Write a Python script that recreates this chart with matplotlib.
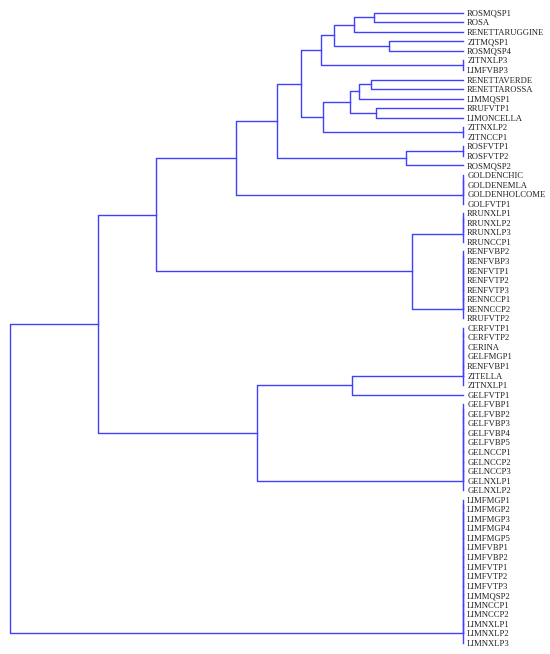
import matplotlib
matplotlib.use("Agg")
import matplotlib.pyplot as plt

# leaf labels, top to bottom
labels = [
    "ROSMQSP1", "ROSA", "RENETTARUGGINE", "ZITMQSP1", "ROSMQSP4",
    "ZITNXLP3", "LIMFVBP3", "RENETTAVERDE", "RENETTAROSSA", "LIMMQSP1",
    "RRUFVTP1", "LIMONCELLA", "ZITNXLP2", "ZITNCCP1", "ROSFVTP1",
    "ROSFVTP2", "ROSMQSP2", "GOLDENCHIC", "GOLDENEMLA", "GOLDENHOLCOME",
    "GOLFVTP1", "RRUNXLP1", "RRUNXLP2", "RRUNXLP3", "RRUNCCP1",
    "RENFVBP2", "RENFVBP3", "RENFVTP1", "RENFVTP2", "RENFVTP3",
    "RENNCCP1", "RENNCCP2", "RRUFVTP2", "CERFVTP1", "CERFVTP2",
    "CERINA", "GELFMGP1", "RENFVBP1", "ZITELLA", "ZITNXLP1",
    "GELFVTP1", "GELFVBP1", "GELFVBP2", "GELFVBP3", "GELFVBP4",
    "GELFVBP5", "GELNCCP1", "GELNCCP2", "GELNCCP3", "GELNXLP1",
    "GELNXLP2", "LIMFMGP1", "LIMFMGP2", "LIMFMGP3", "LIMFMGP4",
    "LIMFMGP5", "LIMFVBP1", "LIMFVBP2", "LIMFVTP1", "LIMFVTP2",
    "LIMFVTP3", "LIMMQSP2", "LIMNCCP1", "LIMNCCP2", "LIMNXLP1",
    "LIMNXLP2", "LIMNXLP3",
]

# identical samples joined at distance 0 (first, last leaf of each run)
zero_groups = {
    "z1": ("ZITNXLP3", "LIMFVBP3"),
    "z2": ("ZITNXLP2", "ZITNCCP1"),
    "z3": ("ROSFVTP1", "ROSFVTP2"),
    "z4": ("GOLDENCHIC", "GOLFVTP1"),
    "z5": ("RRUNXLP1", "RRUNCCP1"),
    "z6": ("RENFVBP2", "RRUFVTP2"),
    "z7": ("CERFVTP1", "ZITNXLP1"),
    "z8": ("GELFVBP1", "GELNXLP2"),
    "z9": ("LIMFMGP1", "LIMNXLP3"),
}

# merges: (node, left, right, distance)
merges = [
    ("n1", "ROSMQSP1", "ROSA", 0.89),
    ("n2", "n1", "RENETTARUGGINE", 1.09),
    ("n3", "ZITMQSP1", "ROSMQSP4", 0.74),
    ("n4", "n2", "n3", 1.29),
    ("n5", "n4", "z1", 1.42),
    ("n6", "RENETTAVERDE", "RENETTAROSSA", 0.92),
    ("n7", "n6", "LIMMQSP1", 1.04),
    ("n8", "RRUFVTP1", "LIMONCELLA", 0.87),
    ("n9", "n7", "n8", 1.13),
    ("n10", "n9", "z2", 1.40),
    ("n11", "n5", "n10", 1.62),
    ("n12", "z3", "ROSMQSP2", 0.57),
    ("n13", "n11", "n12", 1.86),
    ("n14", "n13", "z4", 2.27),
    ("n15", "z5", "z6", 0.51),
    ("n16", "n14", "n15", 3.07),
    ("n17", "z7", "GELFVTP1", 1.11),
    ("n18", "n17", "z8", 2.06),
    ("n19", "n16", "n18", 3.655),
    ("root", "n19", "z9", 4.535),
]

line_col = "#4040ff"

fig = plt.figure(figsize=(5.5, 6.54), dpi=100)
ax = fig.add_axes([9.5 / 550, (654 - 643) / 654, 453.5 / 550, (643 - 12.7) / 654])

pos = {name: float(i) for i, name in enumerate(labels)}
height = {name: 0.0 for name in labels}

# zero-distance runs, chained one leaf at a time
for key, (first, last) in zero_groups.items():
    i0, i1 = labels.index(first), labels.index(last)
    p = float(i0)
    for j in range(i0 + 1, i1 + 1):
        ax.plot([0, 0], [p, j], color=line_col, lw=1.0, clip_on=False)
        p = (p + j) / 2
    pos[key] = p
    height[key] = 0.0

for node, a, b, h in merges:
    ya, yb = pos[a], pos[b]
    ax.plot([height[a], h, h, height[b]], [ya, ya, yb, yb],
            color=line_col, lw=1.0, clip_on=False)
    pos[node] = (ya + yb) / 2
    height[node] = h

ax.set_xlim(4.535, 0)
ax.set_ylim(len(labels) - 1, 0)
ax.yaxis.tick_right()
ax.set_yticks(range(len(labels)))
ax.set_yticklabels(labels, fontsize=6.2, family="Liberation Serif", color="#222222")
ax.tick_params(axis="y", length=0, pad=3)
ax.set_xticks([])
for s in ax.spines.values():
    s.set_visible(False)

fig.savefig("out.png", dpi=100)
